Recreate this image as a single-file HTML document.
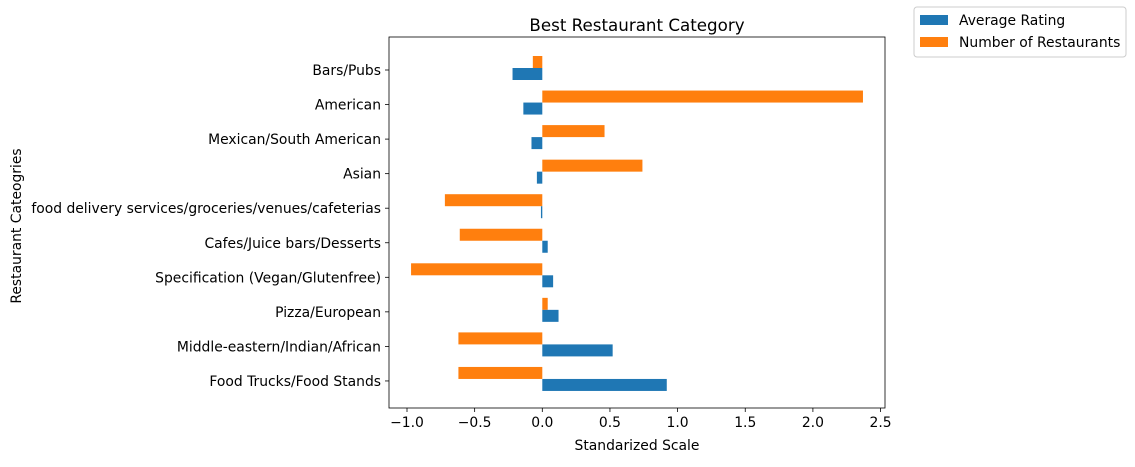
<!DOCTYPE html>
<html><head><meta charset="utf-8"><style>
body{margin:0;background:#fff;}
svg text{font-family:"DejaVu Sans","Liberation Sans",sans-serif;fill:#000;}
</style></head><body>
<svg id="chart" width="1135" height="462"></svg>
<script>
const categories=["Bars/Pubs","American","Mexican/South American","Asian","food delivery services/groceries/venues/cafeterias","Cafes/Juice bars/Desserts","Specification (Vegan/Glutenfree)","Pizza/European","Middle-eastern/Indian/African","Food Trucks/Food Stands"];
const avgRating=[-0.22,-0.14,-0.08,-0.04,-0.01,0.04,0.08,0.12,0.52,0.92];
const numRestaurants=[-0.07,2.37,0.46,0.74,-0.72,-0.61,-0.97,0.04,-0.62,-0.62];
const xTicks=[-1.0,-0.5,0.0,0.5,1.0,1.5,2.0,2.5];
const xTickLabels=["\u22121.0","\u22120.5","0.0","0.5","1.0","1.5","2.0","2.5"];

const svg=document.getElementById('chart');
const NS="http://www.w3.org/2000/svg";
const L=389,R=885,T=37,B=408;
const x=v=>542.3+v*135.3;
const y=i=>70+i*34.55;
function mk(tag,attrs,parent){const e=document.createElementNS(NS,tag);for(const k in attrs)e.setAttribute(k,attrs[k]);(parent||svg).appendChild(e);return e;}
function txt(s,attrs){const e=mk('text',attrs);e.textContent=s;return e;}

categories.forEach((c,i)=>{
  const o=mk('rect',{x:Math.min(x(0),x(numRestaurants[i])),y:y(i)-14,width:Math.abs(x(numRestaurants[i])-x(0)),height:12,fill:'#ff7f0e'});
  
  
  const b=mk('rect',{x:Math.min(x(0),x(avgRating[i])),y:y(i)-2,width:Math.abs(x(avgRating[i])-x(0)),height:12,fill:'#1f77b4'});
  
  
  mk('line',{x1:L,x2:L-4,y1:y(i),y2:y(i),stroke:'#000','stroke-width':0.8});
  const t=txt(c,{x:L-8,y:y(i)+5,'text-anchor':'end','font-size':13.9});
  
  
});
const fr=mk('rect',{x:L,y:T,width:R-L,height:B-T,fill:'none',stroke:'#000','stroke-width':0.8});


xTicks.forEach((v,i)=>{
  mk('line',{x1:x(v),x2:x(v),y1:B,y2:B+4,stroke:'#000','stroke-width':0.8});
  const t=txt(xTickLabels[i],{x:x(v),y:B+19,'text-anchor':'middle','font-size':13.9});
  
  
});
const ti=txt("Best Restaurant Category",{x:(L+R)/2,y:31,'text-anchor':'middle','font-size':16.7});


const xt=txt("Standarized Scale",{x:(L+R)/2,y:450,'text-anchor':'middle','font-size':13.9});


const yt=txt("Restaurant Cateogries",{x:0,y:0,'text-anchor':'middle','font-size':13.9,transform:'translate(21,226) rotate(-90)'});


const lg=mk('rect',{x:914,y:7,width:212,height:50,fill:'#fff',stroke:'#ccc',rx:3});


mk('rect',{x:920,y:15,width:28,height:10,fill:'#1f77b4'});
const l1=txt("Average Rating",{x:959,y:25,'font-size':13.9});


mk('rect',{x:920,y:37,width:28,height:10,fill:'#ff7f0e'});
const l2=txt("Number of Restaurants",{x:959,y:47,'font-size':13.9});


</script>
</body></html>
